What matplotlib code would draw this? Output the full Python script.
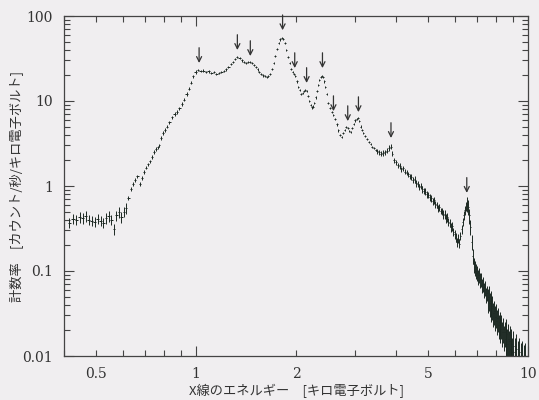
import matplotlib
matplotlib.use("Agg")
import matplotlib.pyplot as plt
import numpy as np
from matplotlib.ticker import FixedLocator, FuncFormatter, NullFormatter

# soft band: flat part with large errors
energy_soft = [0.415, 0.425, 0.435, 0.445, 0.455, 0.465, 0.475, 0.485, 0.495, 0.505,
               0.515, 0.525, 0.535, 0.545, 0.555, 0.565, 0.575, 0.585, 0.595, 0.605, 0.615]
rate_soft = [0.37, 0.41, 0.40, 0.43, 0.42, 0.44, 0.40, 0.39, 0.38, 0.41,
             0.39, 0.37, 0.42, 0.44, 0.40, 0.31, 0.45, 0.49, 0.43, 0.50, 0.55]

# steep rise up to 1 keV
energy_rise = [0.625, 0.635, 0.645, 0.655, 0.665, 0.675, 0.685, 0.695, 0.705, 0.715,
               0.725, 0.735, 0.745, 0.755, 0.765, 0.775, 0.785, 0.795, 0.805, 0.815,
               0.83, 0.845, 0.86, 0.875, 0.89, 0.905, 0.92, 0.935, 0.95, 0.965, 0.98, 0.995]
rate_rise = [0.72, 0.92, 1.05, 1.18, 1.30, 1.05, 1.25, 1.45, 1.65, 1.80,
             1.95, 2.2, 2.5, 2.75, 2.85, 3.0, 3.7, 4.2, 4.6, 5.0,
             5.6, 6.4, 7.0, 7.5, 8.2, 9.2, 10.4, 12.2, 14.0, 16.5, 19.5, 22.0]

# line-rich middle band
energy_mid = [1.01, 1.03, 1.05, 1.07, 1.09, 1.11, 1.13, 1.15, 1.17, 1.19,
              1.21, 1.23, 1.25, 1.27, 1.29, 1.31, 1.33, 1.35, 1.37, 1.39,
              1.41, 1.43, 1.45, 1.47, 1.49, 1.51, 1.53, 1.55, 1.57, 1.59,
              1.61, 1.63, 1.65, 1.67, 1.69, 1.71, 1.73, 1.75, 1.77, 1.79,
              1.81, 1.83, 1.85, 1.87, 1.89, 1.91, 1.93, 1.95, 1.97, 1.99,
              2.01, 2.03, 2.05, 2.07, 2.09, 2.11, 2.13, 2.15, 2.17, 2.19,
              2.21, 2.23, 2.25, 2.27, 2.29, 2.31, 2.33, 2.35, 2.37, 2.39,
              2.41, 2.43, 2.45, 2.47, 2.50, 2.53, 2.56, 2.59, 2.62, 2.65,
              2.68, 2.71, 2.74, 2.77, 2.80, 2.83, 2.86, 2.89, 2.92, 2.95,
              2.98, 3.01, 3.04, 3.07, 3.10, 3.13, 3.16, 3.19, 3.23, 3.27,
              3.31, 3.35, 3.39, 3.43, 3.47, 3.51, 3.55, 3.60, 3.65, 3.70,
              3.75, 3.80, 3.85, 3.90, 3.95, 4.00]
rate_mid = [23.0, 22.5, 22.8, 22.0, 22.3, 21.5, 21.8, 21.0, 21.5, 22.0,
            22.5, 23.5, 25.0, 27.0, 29.0, 31.0, 33.0, 32.0, 30.0, 28.5,
            28.0, 28.5, 28.5, 28.0, 26.5, 25.0, 23.5, 22.0, 21.0, 20.0,
            19.5, 19.0, 19.5, 21.0, 24.0, 28.0, 34.0, 41.0, 48.0, 53.0,
            55.0, 54.0, 48.0, 40.0, 33.0, 28.0, 24.0, 22.0, 21.0, 19.5,
            17.0, 14.5, 13.5, 12.0, 12.5, 13.2, 13.5, 13.0, 11.5, 10.0,
            9.0, 8.4, 8.6, 9.5, 11.0, 13.0, 15.5, 17.5, 19.0, 19.5,
            19.0, 17.0, 14.5, 12.0, 9.5, 8.3, 7.5, 6.8, 6.2, 5.3,
            4.5, 4.0, 3.8, 4.2, 4.6, 4.9, 4.8, 4.4, 4.3, 4.8,
            5.4, 5.9, 6.2, 6.3, 5.8, 5.0, 4.6, 4.2, 3.9, 3.6,
            3.3, 3.1, 2.9, 2.8, 2.65, 2.55, 2.5, 2.4, 2.45, 2.5,
            2.6, 2.8, 2.9, 2.4, 2.0, 1.9]

# hard band with the iron line
energy_hard = [4.05, 4.10, 4.15, 4.20, 4.25, 4.30, 4.35, 4.40, 4.45, 4.50,
               4.55, 4.60, 4.65, 4.70, 4.75, 4.80, 4.85, 4.90, 4.95, 5.00,
               5.05, 5.10, 5.15, 5.20, 5.25, 5.30, 5.35, 5.40, 5.45, 5.50,
               5.55, 5.60, 5.65, 5.70, 5.75, 5.80, 5.85, 5.90, 5.95, 6.00,
               6.05, 6.10, 6.15, 6.20, 6.25, 6.30, 6.35, 6.40, 6.45, 6.50,
               6.55, 6.60, 6.65, 6.70, 6.75, 6.80, 6.85, 6.90, 6.95, 7.00,
               7.05, 7.10, 7.15, 7.20, 7.25, 7.30, 7.35, 7.40, 7.45, 7.50,
               7.55, 7.60, 7.65, 7.70, 7.75, 7.80, 7.85, 7.90, 7.95, 8.00,
               8.05, 8.10, 8.15, 8.20, 8.25, 8.30, 8.35, 8.40, 8.45, 8.50,
               8.55, 8.60, 8.65, 8.70, 8.75, 8.80, 8.85, 8.90, 8.95, 9.00,
               9.10, 9.20, 9.30, 9.40, 9.50, 9.60, 9.70, 9.80]
rate_hard = [1.75, 1.72, 1.58, 1.62, 1.48, 1.44, 1.38, 1.30, 1.28, 1.18,
             1.20, 1.08, 1.06, 0.98, 1.00, 0.92, 0.88, 0.86, 0.80, 0.79,
             0.74, 0.72, 0.66, 0.68, 0.61, 0.60, 0.55, 0.56, 0.51, 0.50,
             0.46, 0.47, 0.42, 0.43, 0.38, 0.37, 0.33, 0.34, 0.29, 0.27,
             0.25, 0.22, 0.24, 0.21, 0.26, 0.31, 0.38, 0.45, 0.52, 0.58,
             0.62, 0.57, 0.45, 0.33, 0.22, 0.15, 0.12, 0.11, 0.10, 0.095,
             0.085, 0.09, 0.078, 0.08, 0.068, 0.07, 0.06, 0.064, 0.052, 0.055,
             0.047, 0.05, 0.042, 0.044, 0.037, 0.039, 0.032, 0.034, 0.029, 0.031,
             0.026, 0.028, 0.023, 0.025, 0.021, 0.023, 0.019, 0.021, 0.017, 0.019,
             0.016, 0.018, 0.014, 0.016, 0.013, 0.015, 0.012, 0.014, 0.011, 0.013,
             0.011, 0.012, 0.010, 0.011, 0.0095, 0.010, 0.009, 0.0095]

# fractional error per energy band
err_edges = [0.4, 0.62, 1.0, 3.5, 4.5, 5.5, 6.5, 7.5, 8.5, 10.0]
err_frac = [0.14, 0.05, 0.03, 0.07, 0.09, 0.12, 0.2, 0.32, 0.5]

# emission line markers: energy and arrow tip height
line_energy = [1.02, 1.33, 1.455, 1.82, 1.98, 2.15, 2.40, 2.59, 2.86, 3.08, 3.86, 6.53]
line_tip = [28, 39.8, 33.8, 68, 24.4, 16.3, 24.4, 7.6, 5.8, 7.4, 3.67, 0.83]

bg = '#f0eef0'
ink = '#1c2822'

energy = np.array(energy_soft + energy_rise + energy_mid + energy_hard)
rate = np.array(rate_soft + rate_rise + rate_mid + rate_hard)
band = np.searchsorted(err_edges, energy) - 1
yerr = rate * np.array(err_frac)[band]
edges = np.concatenate([[energy[0] - (energy[1] - energy[0]) / 2],
                        (energy[1:] + energy[:-1]) / 2,
                        [energy[-1] + (energy[-1] - energy[-2]) / 2]])
xerr = [energy - edges[:-1], edges[1:] - energy]

fig = plt.figure(figsize=(5.39, 4.0), dpi=100)
fig.patch.set_facecolor(bg)
ax = fig.add_axes([0.119, 0.11, 0.861, 0.85])
ax.set_facecolor(bg)

ax.errorbar(energy, rate, yerr=yerr, xerr=xerr, fmt='none', ecolor=ink,
            elinewidth=0.7, capsize=0)

for e, tip in zip(line_energy, line_tip):
    ax.annotate('', xy=(e, tip), xytext=(0, 11), textcoords='offset points',
                arrowprops=dict(arrowstyle='->', color='#333333', lw=0.9,
                                mutation_scale=9, shrinkA=0, shrinkB=0))

ax.set_xscale('log')
ax.set_yscale('log')
ax.set_xlim(0.4, 10)
ax.set_ylim(0.01, 100)

ax.xaxis.set_major_locator(FixedLocator([1, 10]))
ax.xaxis.set_minor_locator(FixedLocator([0.4, 0.5, 0.6, 0.7, 0.8, 0.9,
                                         2, 3, 4, 5, 6, 7, 8, 9]))
ax.xaxis.set_major_formatter(FuncFormatter(lambda v, p: '%g' % v))
ax.xaxis.set_minor_formatter(FuncFormatter(
    lambda v, p: '%g' % v if v in (0.5, 2, 5) else ''))
ax.yaxis.set_major_formatter(FuncFormatter(lambda v, p: '%g' % v))
ax.yaxis.set_minor_formatter(NullFormatter())

ax.tick_params(which='both', direction='in', top=True, right=True,
               colors='#444444', labelcolor='#333333', labelsize=10, width=0.8)
ax.tick_params(which='major', length=7, pad=8)
ax.tick_params(which='minor', length=4, pad=8)
for lab in ax.get_xticklabels(which='both') + ax.get_yticklabels():
    lab.set_family('DejaVu Serif')
for sp in ax.spines.values():
    sp.set_color('#444444')
    sp.set_linewidth(0.9)

ax.set_xlabel('X線のエネルギー　[キロ電子ボルト]', family=['Noto Sans CJK JP', 'DejaVu Sans'],
              fontsize=9.5, color='#333333', labelpad=2)
ax.set_ylabel('計数率　[カウント/秒/キロ電子ボルト]', family=['Noto Sans CJK JP', 'DejaVu Sans'],
              fontsize=9.5, color='#333333')
ax.yaxis.set_label_coords(-0.088, 0.5)

fig.savefig('out.png', dpi=100, facecolor=bg)
